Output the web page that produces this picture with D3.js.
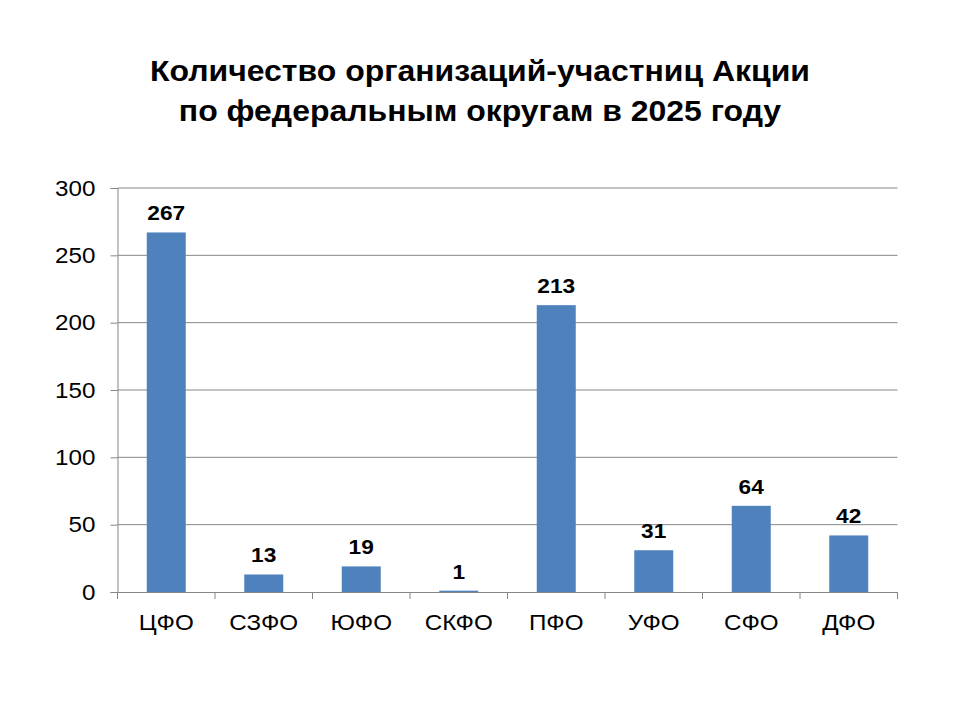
<!DOCTYPE html>
<html>
<head>
<meta charset="utf-8">
<script src="https://cdn.jsdelivr.net/npm/d3@7"></script>
<style>
  body { margin: 0; background: #fff; }
  text { font-family: "Liberation Sans", Arial, sans-serif; }
</style>
</head>
<body>
<svg id="chart" width="960" height="720"></svg>
<script>
"use strict";

// Données
var districts = ["ЦФО", "СЗФО", "ЮФО", "СКФО", "ПФО", "УФО", "СФО", "ДФО"];
var counts = [267, 13, 19, 1, 213, 31, 64, 42];
var yTicks = [0, 50, 100, 150, 200, 250, 300];
var titleLines = ["Количество организаций-участниц Акции", "по федеральным округам в 2025 году"];

var svg = d3.select("#chart");
var plotLeft = 117.5, plotRight = 897.5, plotTop = 188, plotBottom = 592;

var x = d3.scaleBand().domain(districts).range([plotLeft, plotRight]).padding(0);
var y = d3.scaleLinear().domain([0, 300]).range([plotBottom, plotTop]);

// Le texte de l'original est un peu élargi horizontalement
function stretch(sel, k) {
  sel.each(function () {
    var w = this.getComputedTextLength();
    d3.select(this)
      .attr("textLength", w * k)
      .attr("lengthAdjust", "spacingAndGlyphs");
  });
}

// Titre
svg.append("g")
  .selectAll("text")
  .data(titleLines)
  .enter()
  .append("text")
  .attr("x", 480)
  .attr("y", function (d, i) { return 81 + i * 40; })
  .attr("text-anchor", "middle")
  .style("font-size", "30px")
  .style("font-weight", "bold")
  .text(function (d) { return d; })
  .call(stretch, 1.065);

// Lignes de grille et axe Y
var yAxis = svg.append("g")
  .attr("transform", "translate(" + plotLeft + ",0)")
  .call(d3.axisLeft(y).tickValues(yTicks).tickSize(7).tickPadding(15));
yAxis.select(".domain").attr("stroke", "#868686");
yAxis.selectAll(".tick line").attr("stroke", "#868686");
yAxis.selectAll(".tick text")
  .attr("fill", "#000")
  .style("font-size", "22px")
  .style("font-family", "'Liberation Sans', Arial, sans-serif")
  .call(stretch, 1.1);

svg.append("g")
  .selectAll("line")
  .data(yTicks.filter(function (d) { return d > 0; }))
  .enter()
  .append("line")
  .attr("x1", plotLeft)
  .attr("x2", plotRight)
  .attr("y1", function (d) { return y(d); })
  .attr("y2", function (d) { return y(d); })
  .attr("stroke", "#868686")
  .attr("stroke-width", 1);

// Barres
var barW = x.step() * 0.4;
svg.append("g")
  .selectAll("rect")
  .data(counts)
  .enter()
  .append("rect")
  .attr("x", function (d, i) { return x(districts[i]) + (x.step() - barW) / 2; })
  .attr("y", function (d) { return y(d); })
  .attr("width", barW)
  .attr("height", function (d) { return y(0) - y(d); })
  .attr("fill", "#4F81BD");

// Étiquettes de valeurs
svg.append("g")
  .selectAll("text")
  .data(counts)
  .enter()
  .append("text")
  .attr("x", function (d, i) { return x(districts[i]) + x.step() / 2; })
  .attr("y", function (d) { return y(d) - 12; })
  .attr("text-anchor", "middle")
  .style("font-size", "21px")
  .style("font-weight", "bold")
  .text(function (d) { return d; })
  .call(stretch, 1.08);

// Axe X
var xAxis = svg.append("g")
  .attr("transform", "translate(0," + plotBottom + ")")
  .call(d3.axisBottom(x).tickSize(0).tickPadding(22));
xAxis.select(".domain").attr("stroke", "#868686");
xAxis.selectAll(".tick text")
  .attr("fill", "#000")
  .style("font-size", "22px")
  .style("font-family", "'Liberation Sans', Arial, sans-serif")
  .call(stretch, 1.1);

// Petites graduations entre les catégories
svg.append("g")
  .selectAll("line")
  .data(d3.range(districts.length + 1))
  .enter()
  .append("line")
  .attr("x1", function (i) { return plotLeft + i * x.step(); })
  .attr("x2", function (i) { return plotLeft + i * x.step(); })
  .attr("y1", plotBottom)
  .attr("y2", plotBottom + 7)
  .attr("stroke", "#868686");
</script>
</body>
</html>
